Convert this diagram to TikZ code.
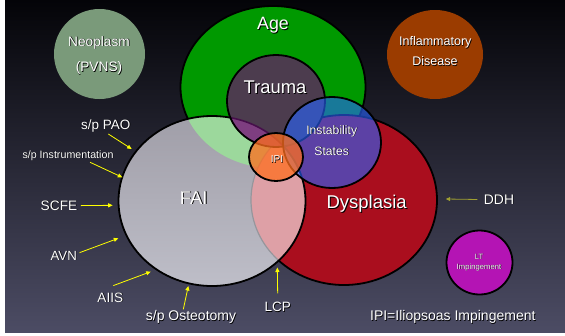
\documentclass[tikz,border=0pt]{standalone}
\usepackage{fontspec}
\setmainfont{Liberation Sans}
\usetikzlibrary{arrows.meta}

\definecolor{bgtop}{RGB}{4,4,8}
\definecolor{bgmid}{RGB}{28,28,44}
\definecolor{bgbot}{RGB}{76,76,100}
\definecolor{agegreen}{RGB}{0,153,0}
\definecolor{agefai}{RGB}{156,216,156}
\definecolor{faitop}{RGB}{160,158,168}
\definecolor{faibot}{RGB}{190,190,200}
\definecolor{dysred}{RGB}{170,14,30}
\definecolor{dysfai}{RGB}{222,160,166}
\definecolor{dysedge}{RGB}{150,150,156}
\definecolor{traumac}{RGB}{76,60,78}
\definecolor{traumafai}{RGB}{126,62,128}
\definecolor{traumaedge}{RGB}{70,15,75}
\definecolor{instabc}{RGB}{40,100,255}
\definecolor{ipiorange}{RGB}{255,110,30}
\definecolor{neogreen}{RGB}{122,154,122}
\definecolor{inflbrown}{RGB}{155,60,0}
\definecolor{ltmag}{RGB}{180,20,180}
\definecolor{arrowyellow}{RGB}{255,255,0}
\definecolor{ddhyellow}{RGB}{160,160,50}

% white text with a small dark drop shadow
\newcommand\shd[1]{\leavevmode\rlap{\kern0.05em\raisebox{-0.05em}{\textcolor{black}{#1}}}#1}
\newcommand\fs[1]{\fontsize{#1}{#1}\selectfont}

\tikzset{
  pAge/.style={insert path={(273,87) ellipse [x radius=92.5pt, y radius=81pt]}},
  pFAI/.style={insert path={(212,201) ellipse [x radius=93.5pt, y radius=85pt]}},
  pDys/.style={insert path={(344,200) ellipse [x radius=93pt, y radius=85pt]}},
  pTrauma/.style={insert path={(276,101) ellipse [x radius=49pt, y radius=46pt]}},
  pInst/.style={insert path={(332,142.5) ellipse [x radius=49pt, y radius=45.5pt]}},
  pIPI/.style={insert path={(276,157) ellipse [x radius=27pt, y radius=24pt]}},
  pNeo/.style={insert path={(99.5,54) ellipse [x radius=45.5pt, y radius=45pt]}},
  pInfl/.style={insert path={(435,54.5) ellipse [x radius=48pt, y radius=44.5pt]}},
  pLT/.style={insert path={(479.5,262.5) ellipse [x radius=33pt, y radius=32pt]}},
  edge/.style={draw=black, line width=1.8pt},
  lbl/.style={text=white, inner sep=1pt, anchor=base},
  arr/.style={draw=arrowyellow, line width=0.8pt, -{Triangle[length=4.5pt,width=4pt]}},
}

\begin{document}
\begin{tikzpicture}[x=1pt, y=-1pt]
\useasboundingbox (0,0) rectangle (565,335);
\fill[white] (0,0) rectangle (565,335);
\shade[top color=bgtop, middle color=bgmid, bottom color=bgbot] (5,0) rectangle (565,332);

% Age and Dysplasia underneath FAI
\fill[agegreen, pAge];
\draw[edge, pAge];
\fill[dysred, pDys];
\draw[edge, pDys];

% FAI and its overlaps
\shade[top color=faitop, bottom color=faibot, pFAI];
\begin{scope}
  \clip[pFAI];
  \fill[agefai, pAge];
  \fill[dysfai, pDys];
  \draw[dysedge, line width=1.2pt, pDys];
\end{scope}
\draw[edge, pFAI];

% Trauma
\fill[traumac, pTrauma];
\begin{scope}
  \clip[pTrauma];
  \fill[traumafai, pFAI];
  \draw[traumaedge, line width=1.6pt, pFAI];
\end{scope}
\draw[edge, pTrauma];

% Instability states and IPI
\fill[instabc, fill opacity=0.6, pInst];
\draw[edge, pInst];
\fill[ipiorange, fill opacity=0.75, pIPI];
\draw[edge, pIPI];

% separate circles
\fill[neogreen, pNeo];
\fill[inflbrown, pInfl];
\fill[ltmag, pLT];
\draw[edge, pLT];

% labels inside circles
\node[lbl, font=\fs{17.8}] (age) at (273,29.3) {\shd{Age}};
\node[lbl, font=\fs{18.4}] (trauma) at (275,93.3) {\shd{Trauma}};
\node[lbl, font=\fs{12.2}] (instab1) at (331.7,134.3) {\shd{Instability}};
\node[lbl, font=\fs{12.2}] (instab2) at (331.7,155) {\shd{States}};
\node[lbl, font=\fs{10}] (ipi) at (277,162.7) {\shd{IPI}};
\node[lbl, font=\fs{18.5}] (fai) at (193.7,204) {\shd{FAI}};
\node[lbl, font=\fs{18.5}] (dys) at (366.7,208.3) {\shd{Dysplasia}};
\node[lbl, font=\fs{13.7}] (neo1) at (99,46) {\shd{Neoplasm}};
\node[lbl, font=\fs{13.7}] (neo2) at (99,71.7) {\shd{(PVNS)}};
\node[lbl, font=\fs{12.5}] (infl1) at (435.3,45.7) {\shd{Inflammatory}};
\node[lbl, font=\fs{12.5}] (infl2) at (435,65.7) {\shd{Disease}};
\node[lbl, font=\fs{7.7}] (lt1) at (479,259.3) {\shd{LT}};
\node[lbl, font=\fs{7.7}] (lt2) at (479,269) {\shd{Impingement}};

% outside labels
\node[lbl, font=\fs{13.5}] (pao) at (105.7,129.3) {\shd{s/p PAO}};
\node[lbl, font=\fs{10.7}] (instr) at (68,158.3) {\shd{s/p Instrumentation}};
\node[lbl, font=\fs{13.7}] (scfe) at (59,210) {\shd{SCFE}};
\node[lbl, font=\fs{13.3}] (avn) at (63.7,260) {\shd{AVN}};
\node[lbl, font=\fs{13.6}] (aiis) at (110.3,302.3) {\shd{AIIS}};
\node[lbl, font=\fs{14}] (osteo) at (191,320.7) {\shd{s/p Osteotomy}};
\node[lbl, font=\fs{13.5}] (lcp) at (277.8,311.7) {\shd{LCP}};
\node[lbl, font=\fs{13.9}] (ddh) at (499,204) {\shd{DDH}};
\node[lbl, font=\fs{14}] (ipidef) at (452.8,320.7) {\shd{IPI=Iliopsoas Impingement}};

% arrow targets on the circle rims
\coordinate (paoTip) at (131.7,149);
\coordinate (instrTip) at (122.3,177.3);
\coordinate (scfeTip) at (112.7,205.3);
\coordinate (avnTip) at (118.3,238.3);
\coordinate (aiisTip) at (150.7,271.7);
\coordinate (osteoTip) at (188.3,286);
\coordinate (lcpTip) at (277.3,267.5);
\coordinate (ddhTip) at (445.7,199);

\draw[arr] ([xshift=2.6pt]pao.south) -- (paoTip);
\draw[arr] ([xshift=22pt]instr.south) -- (instrTip);
\draw[arr, shorten <=2.4pt] (scfe.east) -- (scfeTip);
\draw[arr] ([xshift=1.5pt,yshift=-3pt]avn.north east) -- (avnTip);
\draw[arr] ([xshift=3pt,yshift=6pt]aiis.north) -- (aiisTip);
\draw[arr] ([xshift=-7.7pt]osteo.north) -- (osteoTip);
\draw[arr, shorten <=7.7pt] (lcp.north) -- (lcpTip);
\draw[arr, draw=ddhyellow, shorten <=5.3pt] (ddh.west) -- (ddhTip);
\end{tikzpicture}
\end{document}
